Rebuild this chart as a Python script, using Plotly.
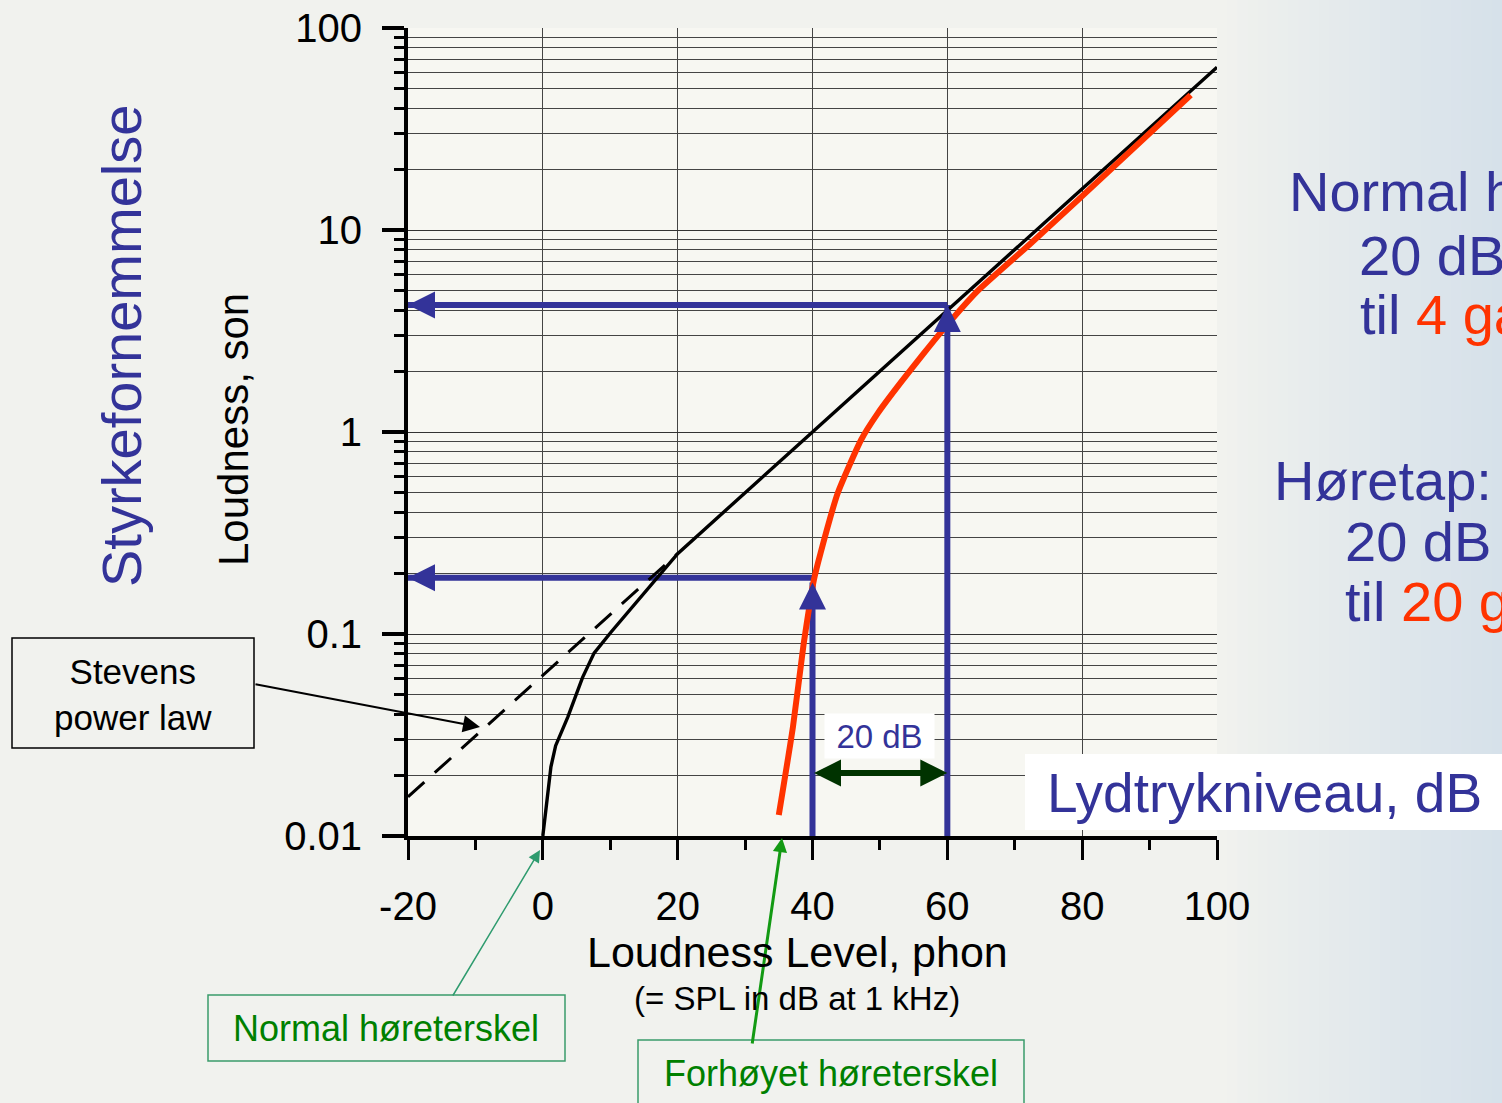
import math
import plotly.graph_objects as go

# ---------------- data ----------------
normal_phon = [0, 0.7, 1.2, 1.9, 3.7, 5.9, 7.6, 10.1, 20, 40, 60, 80, 100]
normal_son = [0.01, 0.0163, 0.022, 0.028, 0.0388, 0.061, 0.0804, 0.102, 0.25, 1, 4, 16, 64]

stevens_phon = [-20, 20]
stevens_son = [0.015625, 0.25]

impaired_phon = [35.0, 37.1, 38.7, 39.75, 40.2, 41.2, 43.75, 47.2, 49.7, 53.1, 56.5, 60.0, 64.5, 72.4, 79.4, 96.1]
impaired_son = [0.0127, 0.0347, 0.090, 0.152, 0.185, 0.252, 0.499, 0.913, 1.24, 1.76, 2.45, 3.4, 5.0, 8.6, 14.1, 46.6]

reading_phon = [40, 60]
reading_tip_son = [0.18, 4.25]      # vertical arrow tips
reading_hline_son = [0.19, 4.25]    # horizontal arrow levels
son_floor = 0.01
phon_left = -20
gap_son = 0.0205                    # level of the 20 dB double arrow
gap_label_son = 0.0313

x_tickvals = [-20, 0, 20, 40, 60, 80, 100]
x_ticktext = ["-20", "0", "20", "40", "60", "80", "100"]
x_minor = [-10, 10, 30, 50, 70, 90]
y_tickvals = [0.01, 0.1, 1, 10, 100]
y_ticktext = ["0.01", "0.1", "1", "10", "100"]
y_minor = [m * 10 ** d for d in range(-2, 2) for m in range(2, 10)]

BLUE = "#333399"
RED = "#ff3300"
DGREEN = "#003300"
TGREEN = "#008000"
BOXGREEN = "#3a9c6b"
FONT = "Liberation Sans, Arial, sans-serif"

W, H = 1502, 1103
L, R, T, B = 408, 285, 28, 267
PW, PH = W - L - R, H - T - B


def px(x):
    return (x - L) / PW


def py(y):
    return (H - B - y) / PH


fig = go.Figure()

# background gradient at right side
n = 28
c0 = (241, 242, 238)
c1 = (214, 225, 234)
for i in range(n):
    t = (i / (n - 1)) ** 0.9
    col = tuple(int(round(c0[k] + (c1[k] - c0[k]) * t)) for k in range(3))
    xa = 1217 + (W - 1217) * i / n
    xb = 1217 + (W - 1217) * (i + 1) / n + 1
    fig.add_shape(type="rect", xref="paper", yref="paper", x0=px(xa), x1=px(xb),
                  y0=py(H), y1=py(0), fillcolor="rgb(%d,%d,%d)" % col,
                  line_width=0, layer="below")

# blue reading lines (below curves)
for ph, tip, hl in zip(reading_phon, reading_tip_son, reading_hline_son):
    fig.add_trace(go.Scatter(x=[ph, ph], y=[son_floor, tip], mode="lines",
                             line=dict(color=BLUE, width=6), hoverinfo="skip"))
    fig.add_trace(go.Scatter(x=[ph, phon_left], y=[hl, hl], mode="lines",
                             line=dict(color=BLUE, width=6), hoverinfo="skip"))

# Stevens power law (dashed)
fig.add_trace(go.Scatter(x=stevens_phon, y=stevens_son, mode="lines",
                         line=dict(color="black", width=3, dash="22px,14px")))
# normal loudness curve
fig.add_trace(go.Scatter(x=normal_phon, y=normal_son, mode="lines",
                         line=dict(color="black", width=3.4)))
# impaired loudness curve
fig.add_trace(go.Scatter(x=impaired_phon, y=impaired_son, mode="lines",
                         line=dict(color=RED, width=6, shape="spline", smoothing=0.5)))

ann = []
# arrowheads for blue lines
for ph, tip, hl in zip(reading_phon, reading_tip_son, reading_hline_son):
    ann.append(dict(x=ph, y=math.log10(tip), xref="x", yref="y", ax=0, ay=24,
                    showarrow=True, arrowhead=2, arrowsize=0.9, arrowwidth=6,
                    arrowcolor=BLUE, text=""))
    ann.append(dict(x=phon_left, y=math.log10(hl), xref="x", yref="y", ax=24, ay=0,
                    showarrow=True, arrowhead=2, arrowsize=0.9, arrowwidth=6,
                    arrowcolor=BLUE, text=""))

# 20 dB double arrow
ann.append(dict(x=reading_phon[1], y=math.log10(gap_son), xref="x", yref="y",
                ax=reading_phon[0], ay=math.log10(gap_son), axref="x", ayref="y",
                showarrow=True, arrowhead=2, startarrowhead=2, arrowside="end+start",
                arrowsize=0.9, startarrowsize=0.9, arrowwidth=6, arrowcolor=DGREEN, text=""))
ann.append(dict(x=(reading_phon[0] + reading_phon[1]) / 2, y=math.log10(gap_label_son),
                xref="x", yref="y", xanchor="center", yanchor="middle",
                text="20 dB", showarrow=False,
                font=dict(size=33, color=BLUE, family=FONT), bgcolor="white",
                width=109, height=44, borderpad=0))

# Lydtrykniveau box
fig.add_shape(type="rect", xref="paper", yref="paper", x0=px(1025), x1=px(1520),
              y0=py(830), y1=py(754), fillcolor="white", line_width=0, layer="above")
ann.append(dict(x=px(1045), y=py(793), xref="paper", yref="paper", xanchor="left",
                yanchor="middle", text="Lydtrykniveau, dB", showarrow=False,
                font=dict(size=55, color=BLUE, family=FONT)))

# Stevens box + arrow
fig.add_shape(type="rect", xref="paper", yref="paper", x0=px(12), x1=px(254),
              y0=py(748), y1=py(638), line=dict(color="black", width=1.5),
              fillcolor="rgba(0,0,0,0)", layer="above")
ann.append(dict(x=px(133), y=py(694), xref="paper", yref="paper", xanchor="center",
                yanchor="middle", text="Stevens<br>power law",
                showarrow=False, font=dict(size=35, color="black", family=FONT)))
ann.append(dict(x=px(480), y=py(727), xref="paper", yref="paper", ax=254 - 480, ay=684 - 727,
                showarrow=True, arrowhead=2, arrowsize=1.7, arrowwidth=2,
                arrowcolor="black", text=""))

# Normal høreterskel box + arrow
fig.add_shape(type="rect", xref="paper", yref="paper", x0=px(208), x1=px(565),
              y0=py(1061), y1=py(995), line=dict(color=BOXGREEN, width=1.5),
              fillcolor="rgba(0,0,0,0)", layer="above")
ann.append(dict(x=px(386), y=py(1028), xref="paper", yref="paper", xanchor="center",
                yanchor="middle", text="Normal høreterskel",
                showarrow=False, font=dict(size=36, color=TGREEN, family=FONT)))
ann.append(dict(x=px(540), y=py(850), xref="paper", yref="paper", ax=452 - 540, ay=997 - 850,
                showarrow=True, arrowhead=2, arrowsize=1.6, arrowwidth=1.5,
                arrowcolor="#2e9b6e", text=""))

# Forhøyet høreterskel box + arrow
fig.add_shape(type="rect", xref="paper", yref="paper", x0=px(638), x1=px(1024),
              y0=py(1115), y1=py(1040), line=dict(color=BOXGREEN, width=1.5),
              fillcolor="rgba(0,0,0,0)", layer="above")
ann.append(dict(x=px(831), y=py(1073), xref="paper", yref="paper", xanchor="center",
                yanchor="middle", text="Forhøyet høreterskel",
                showarrow=False, font=dict(size=36, color=TGREEN, family=FONT)))
ann.append(dict(x=px(782), y=py(838), xref="paper", yref="paper", ax=752 - 782, ay=1045 - 838,
                showarrow=True, arrowhead=2, arrowsize=0.95, arrowwidth=3,
                arrowcolor="#139a13", text=""))

# axis titles
ann.append(dict(x=px(121), y=py(346), xref="paper", yref="paper", xanchor="center",
                yanchor="middle", text="Styrkefornemmelse",
                textangle=-90, showarrow=False, font=dict(size=56, color=BLUE, family=FONT)))
ann.append(dict(x=px(233), y=py(430), xref="paper", yref="paper", xanchor="center",
                yanchor="middle", text="Loudness, son",
                textangle=-90, showarrow=False, font=dict(size=42, color="black", family=FONT)))
ann.append(dict(x=px(797), y=py(952), xref="paper", yref="paper", xanchor="center",
                yanchor="middle", text="Loudness Level, phon",
                showarrow=False, font=dict(size=43, color="black", family=FONT)))
ann.append(dict(x=px(797), y=py(998), xref="paper", yref="paper", xanchor="center",
                yanchor="middle", text="(= SPL in dB at 1 kHz)",
                showarrow=False, font=dict(size=33, color="black", family=FONT)))

# right side texts (the slide edge cuts them)
right_lines = [
    (1287, 192, "Normal h"),
    (1357, 255, "20 dB"),
    (1358, 314, "til <span style='color:%s'>4 ga</span>" % RED),
    (1272, 480, "Høretap:"),
    (1343, 541, "20 dB"),
    (1343, 601, "til <span style='color:%s'>20 g</span>" % RED),
]
for xx, yy, tx in right_lines:
    ann.append(dict(x=px(xx), y=py(yy), xref="paper", yref="paper", xanchor="left",
                    yanchor="middle", text=tx, showarrow=False,
                    font=dict(size=56, color=BLUE, family=FONT)))

fig.update_layout(
    width=W, height=H, margin=dict(l=L, r=R, t=T, b=B, autoexpand=False),
    paper_bgcolor="#f1f2ee", plot_bgcolor="#f7f7f2", showlegend=False,
    font=dict(family=FONT, color="black"),
    annotations=ann,
    xaxis=dict(range=[-20, 100], tickvals=x_tickvals, ticktext=x_ticktext,
               automargin=False,
               ticks="outside", ticklen=20, tickwidth=3, tickcolor="black",
               showline=True, linewidth=4, linecolor="black",
               showgrid=True, gridcolor="#444444", gridwidth=1, zeroline=False,
               tickfont=dict(size=40, family=FONT, color="black"),
               ticklabelstandoff=12,
               minor=dict(tickvals=x_minor, ticks="outside", ticklen=10, tickwidth=3,
                          tickcolor="black", showgrid=False)),
    yaxis=dict(type="log", range=[-2, 2], tickvals=y_tickvals, ticktext=y_ticktext,
               automargin=False,
               ticks="outside", ticklen=22, tickwidth=4, tickcolor="black",
               showline=True, linewidth=4, linecolor="black",
               showgrid=True, gridcolor="#333333", gridwidth=1, zeroline=False,
               tickfont=dict(size=40, family=FONT, color="black"),
               ticklabelstandoff=12,
               minor=dict(tickvals=y_minor, ticks="outside", ticklen=10, tickwidth=3,
                          tickcolor="black", showgrid=True, gridcolor="#444444", gridwidth=1)),
)

fig.write_html("out.html", config={"displayModeBar": False},
               post_script="document.body.style.margin='0';document.body.style.overflow='hidden';")
